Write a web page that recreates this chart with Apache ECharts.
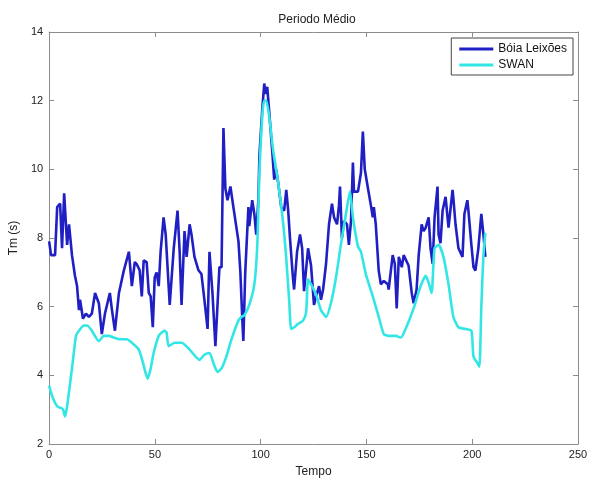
<!DOCTYPE html>
<html>
<head>
<meta charset="utf-8">
<script src="https://cdn.jsdelivr.net/npm/echarts@6/dist/echarts.min.js"></script>
<style>html,body{margin:0;padding:0;background:#fff}#c{width:591px;height:483px}</style>
</head>
<body>
<div id="c"></div>
<script>
const chartTitle = "Periodo Médio";
const seriesNames = ["Bóia Leixões", "SWAN"];
const xTicks = [0, 50, 100, 150, 200, 250];
const yTicks = [2, 4, 6, 8, 10, 12, 14];

const boiaT = [0.0,0.9,2.8,3.8,5.2,6.1,7.1,8.5,9.4,10.8,12.2,13.2,14.1,14.6,16.0,17.4,18.8,20.2,21.7,23.5,24.9,26.4,28.7,29.7,31.1,33.0,35.3,37.7,39.1,40.5,41.4,42.8,43.8,44.7,46.1,47.1,48.0,49.0,49.9,50.8,51.8,52.7,54.1,55.1,57.0,58.9,60.7,61.7,62.6,64.0,65.0,66.4,67.3,68.7,70.6,72.0,73.4,74.9,75.8,77.2,78.6,80.5,81.5,82.4,83.3,84.3,85.7,87.1,89.5,90.4,91.3,91.8,92.7,94.2,94.6,96.0,97.0,97.9,98.9,99.4,100.8,101.7,102.2,103.1,104.0,105.5,106.4,107.3,108.3,109.7,111.1,112.1,113.0,113.9,115.3,115.8,117.2,118.6,119.6,120.5,122.4,123.8,125.2,126.2,127.6,128.5,129.5,130.9,132.3,133.7,134.7,136.1,137.0,137.5,138.4,139.4,140.8,141.7,142.7,143.6,144.1,146.0,147.4,148.3,149.2,150.7,152.1,153.0,153.5,154.4,155.8,156.8,158.2,160.1,160.5,162.4,163.4,164.3,165.3,166.7,167.6,168.5,169.9,171.4,172.3,173.7,174.7,176.1,177.0,178.0,179.4,180.3,181.3,182.2,183.6,184.1,185.0,186.0,187.4,188.8,189.3,190.7,191.1,192.1,193.5,194.4,195.4,196.3,197.7,198.2,199.6,200.6,201.5,202.9,204.3,205.3,206.2];
const boiaV = [7.9,7.5,7.5,8.9,9.0,7.7,9.3,7.8,8.4,7.5,6.9,6.6,5.9,6.2,5.65,5.8,5.7,5.8,6.4,6.1,5.2,5.8,6.4,5.9,5.3,6.4,7.05,7.6,6.6,7.3,7.24,7.06,6.3,7.35,7.3,6.4,6.3,5.4,6.85,7.0,6.6,7.6,8.6,8.1,6.05,7.7,8.8,7.6,6.05,8.2,7.45,8.4,8.1,7.45,7.06,6.95,6.2,5.35,7.6,6.4,4.85,7.15,7.15,11.2,9.45,9.1,9.5,8.9,7.9,7.0,5.65,5.0,7.0,8.9,8.35,9.1,8.7,8.1,9.1,10.4,11.8,12.5,12.2,12.4,11.7,10.5,9.7,10.0,9.6,8.9,8.8,9.4,8.8,7.95,6.8,6.5,7.6,8.1,7.7,6.45,7.7,7.2,6.05,6.3,6.6,6.2,6.5,7.25,8.4,9.0,8.6,8.4,8.95,9.5,8.0,8.5,8.4,7.8,8.5,10.2,9.35,9.35,9.9,11.1,10.0,9.45,8.95,8.6,8.9,8.4,7.05,6.65,6.75,6.65,6.5,7.5,7.25,5.95,7.45,7.15,7.5,7.45,7.2,6.4,6.1,6.5,7.5,8.4,8.2,8.3,8.6,7.7,7.25,8.6,9.5,8.1,7.85,8.8,9.2,8.3,8.35,9.4,9.15,8.4,7.7,7.75,7.45,8.7,9.1,8.8,7.8,7.15,7.05,7.7,8.7,8.1,7.45];

const swanT = [0.0,1.4,3.8,5.6,6.6,7.5,8.5,10.8,12.7,14.1,16.5,17.9,20.2,23.5,25.9,28.2,30.6,33.4,36.7,40.0,42.4,44.2,45.7,46.6,48.0,49.4,51.8,54.6,55.5,56.5,59.3,62.6,66.4,71.1,73.4,75.8,77.7,79.6,81.5,83.8,86.2,89.5,90.9,92.3,94.6,97.0,98.4,99.4,100.8,101.7,102.6,104.0,105.9,108.3,110.6,112.1,113.5,114.4,115.8,117.7,120.1,121.5,122.4,123.8,126.2,128.5,130.9,133.2,135.6,137.9,140.3,142.2,143.6,146.0,147.4,149.7,153.0,155.8,158.2,160.5,163.8,166.2,168.5,172.3,175.6,178.0,179.4,180.8,182.2,184.1,186.4,188.8,191.1,193.5,196.8,199.6,200.6,202.5,203.4,204.3,205.3,206.2];
const swanV = [3.7,3.4,3.1,3.05,3.0,2.8,3.1,4.2,5.15,5.3,5.45,5.45,5.3,5.0,5.15,5.15,5.1,5.05,5.05,4.9,4.75,4.4,4.05,3.9,4.2,4.65,5.15,5.3,5.25,4.85,4.95,4.95,4.75,4.45,4.6,4.65,4.35,4.1,4.2,4.55,5.05,5.6,5.7,5.75,6.05,6.65,7.8,9.9,11.6,12.0,12.0,11.55,10.55,9.6,8.45,7.4,6.15,5.35,5.4,5.5,5.6,5.85,6.8,6.65,6.35,5.9,5.7,6.1,6.85,7.8,8.7,9.35,8.6,7.75,7.6,6.95,6.3,5.7,5.2,5.15,5.15,5.1,5.35,5.95,6.6,6.9,6.7,6.4,7.7,7.8,7.45,6.65,5.7,5.4,5.35,5.3,4.55,4.35,4.25,6.0,7.5,8.15];

const zip = (a, b) => a.map((t, i) => [t, b[i]]);
const frame = '#8c8c8c';
const font = 'Liberation Sans, Arial, sans-serif';
const chart = echarts.init(document.getElementById('c'), null, {renderer: 'canvas'});
const xCommon = {
  type: 'value', min: xTicks[0], max: xTicks[xTicks.length - 1], interval: 50,
  axisLine: {show: true, onZero: false, lineStyle: {color: frame, width: 1}},
  axisTick: {show: true, inside: true, length: 5, lineStyle: {color: frame}},
  splitLine: {show: false}
};
const yCommon = {
  type: 'value', min: yTicks[0], max: yTicks[yTicks.length - 1], interval: 2,
  axisLine: {show: true, onZero: false, lineStyle: {color: frame, width: 1}},
  axisTick: {show: true, inside: true, length: 5, lineStyle: {color: frame}},
  splitLine: {show: false}
};
chart.setOption({
  animation: false,
  backgroundColor: '#fff',
  title: {text: chartTitle, left: 312, top: 9, textAlign: 'center',
    textStyle: {fontFamily: font, fontSize: 12, fontWeight: 'normal', color: '#222'}},
  grid: {left: 47, right: 13, top: 32, bottom: 34, containLabel: false},
  legend: {
    right: 18, top: 38, orient: 'vertical', itemGap: 4,
    padding: [5, 6, 4, 8],
    backgroundColor: '#fff', borderColor: '#444', borderWidth: 1,
    itemWidth: 34, itemHeight: 3, icon: 'rect',
    textStyle: {fontFamily: font, fontSize: 12, color: '#111'},
    data: seriesNames
  },
  xAxis: [
    Object.assign({}, xCommon, {position: 'bottom', name: 'Tempo', nameLocation: 'middle', nameGap: 22,
      nameTextStyle: {fontFamily: font, fontSize: 12, color: '#222'},
      axisLabel: {show: true, fontFamily: font, fontSize: 11, color: '#222', margin: 5}}),
    Object.assign({}, xCommon, {position: 'top', axisLabel: {show: false}})
  ],
  yAxis: [
    Object.assign({}, yCommon, {position: 'left', name: 'Tm (s)', nameLocation: 'middle', nameGap: 22, nameRotate: 90,
      nameTextStyle: {fontFamily: font, fontSize: 12, color: '#222'},
      axisLabel: {show: true, fontFamily: font, fontSize: 11, color: '#222', margin: 6}}),
    Object.assign({}, yCommon, {position: 'right', axisLabel: {show: false}})
  ],
  series: [
    {name: seriesNames[0], type: 'line', data: zip(boiaT, boiaV), showSymbol: false,
      itemStyle: {color: '#1f1fc4'}, lineStyle: {color: '#1f1fc4', width: 2.6}, xAxisIndex: 0, yAxisIndex: 0},
    {name: seriesNames[1], type: 'line', data: zip(swanT, swanV), showSymbol: false, smooth: 0.2,
      itemStyle: {color: '#33e6e6'}, lineStyle: {color: '#33e6e6', width: 2.6}, xAxisIndex: 0, yAxisIndex: 0}
  ]
});
</script>
</body>
</html>
